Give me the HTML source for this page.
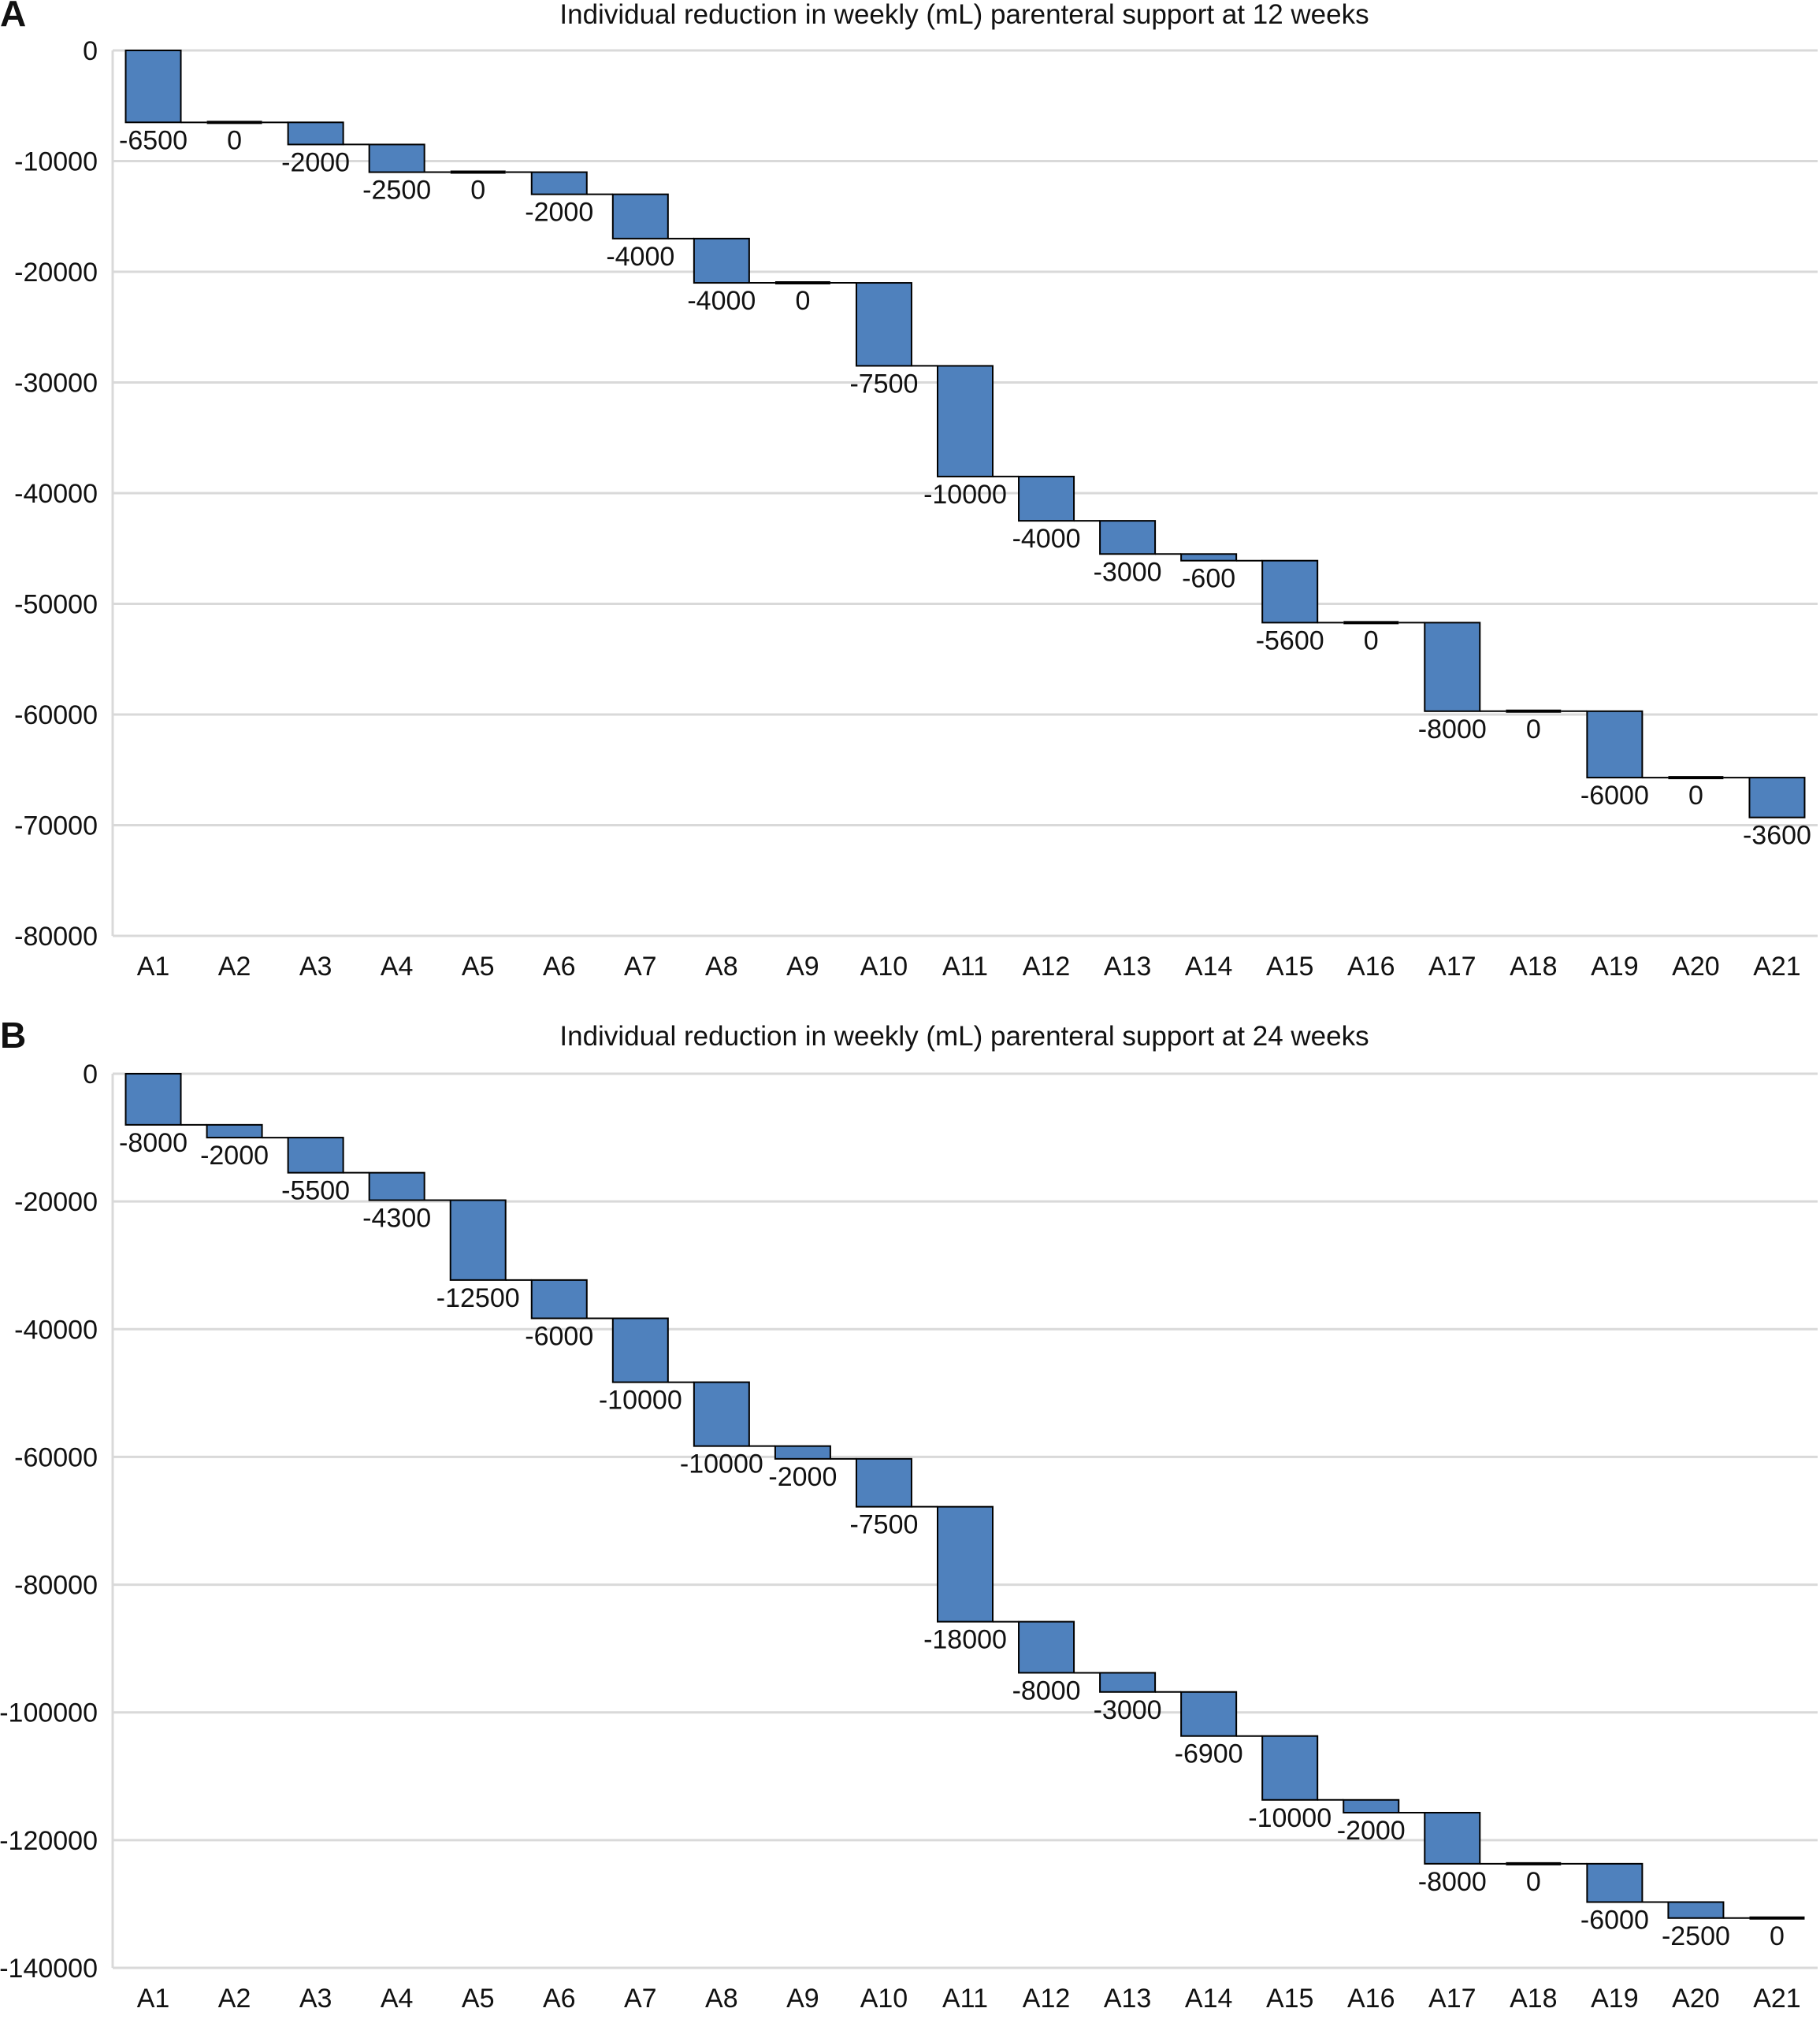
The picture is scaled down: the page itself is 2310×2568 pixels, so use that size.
<!DOCTYPE html>
<html><head><meta charset="utf-8"><style>
body{margin:0;background:#fff}
svg text{font-family:"Liberation Sans","DejaVu Sans",sans-serif;fill:#111}
</style></head><body>
<svg id="c" width="2310" height="2563"></svg>
<script>
const categories=["A1","A2","A3","A4","A5","A6","A7","A8","A9","A10","A11","A12","A13","A14","A15","A16","A17","A18","A19","A20","A21"];
const valuesA=[-6500,0,-2000,-2500,0,-2000,-4000,-4000,0,-7500,-10000,-4000,-3000,-600,-5600,0,-8000,0,-6000,0,-3600];
const valuesB=[-8000,-2000,-5500,-4300,-12500,-6000,-10000,-10000,-2000,-7500,-18000,-8000,-3000,-6900,-10000,-2000,-8000,0,-6000,-2500,0];
const ticksA=[0,-10000,-20000,-30000,-40000,-50000,-60000,-70000,-80000];
const ticksB=[0,-20000,-40000,-60000,-80000,-100000,-120000,-140000];
const svg=document.getElementById('c');
const NS="http://www.w3.org/2000/svg";
function mk(t,a,p){const e=document.createElementNS(NS,t);for(const k in a)e.setAttribute(k,a[k]);(p||svg).appendChild(e);return e;}
function chart(id,letter,title,vals,ticks,y0,yMin,yBot,minV,catY,titleY){
  const g=mk('g',{});
  
  
  const x0=143,x1=2307,bw=(x1-x0)/categories.length;
  const ys=v=>y0+(v/minV)*(yBot-y0);
  const xc=i=>x0+bw*(i+0.5);
  const L=mk('text',{x:0,y:titleY+15,'font-size':46,'font-weight':'bold'},g);L.textContent=letter;
  
  
  const T=mk('text',{x:1224,y:titleY+12,'font-size':35,'text-anchor':'middle'},g);T.textContent=title;
  
  
  ticks.forEach(t=>{
    const y=ys(t);
    const gl=mk('line',{x1:x0,x2:x1,y1:y,y2:y,stroke:'#d9d9d9','stroke-width':3},g);
    
    
    const tl=mk('text',{x:124,y:y+12,'font-size':34,'text-anchor':'end'},g);tl.textContent=t;
    
    
  });
  const ax=mk('line',{x1:x0,x2:x0,y1:y0,y2:yBot,stroke:'#d9d9d9','stroke-width':3},g);
  
  
  let cum=0;
  vals.forEach((v,i)=>{
    const top=ys(cum),bot=ys(cum+v),cx=xc(i),w=70;
    if(v===0){
      const z=mk('line',{x1:cx-w/2,x2:cx+w/2,y1:top,y2:top,stroke:'#000','stroke-width':4},g);
      
      
    }else{
      const r=mk('rect',{x:cx-w/2,y:top,width:w,height:bot-top,fill:'#4f81bd',stroke:'#000','stroke-width':2},g);
      
      
    }
    if(i<vals.length-1){
      const c=mk('line',{x1:cx+w/2,x2:xc(i+1)-w/2,y1:bot,y2:bot,stroke:'#000','stroke-width':2},g);
      
      
    }
    const lb=mk('text',{x:cx,y:bot+34,'font-size':34,'text-anchor':'middle'},g);lb.textContent=v;
    
    
    const cl=mk('text',{x:cx,y:catY+12,'font-size':34,'text-anchor':'middle'},g);cl.textContent=categories[i];
    
    
    cum+=v;
  });
}
chart('a','A','Individual reduction in weekly (mL) parenteral support at 12 weeks',valuesA,ticksA,64,-80000,1188,-80000,1226,18);
chart('b','B','Individual reduction in weekly (mL) parenteral support at 24 weeks',valuesB,ticksB,1363,-140000,2498,-140000,2536,1315);
</script>
</body></html>
